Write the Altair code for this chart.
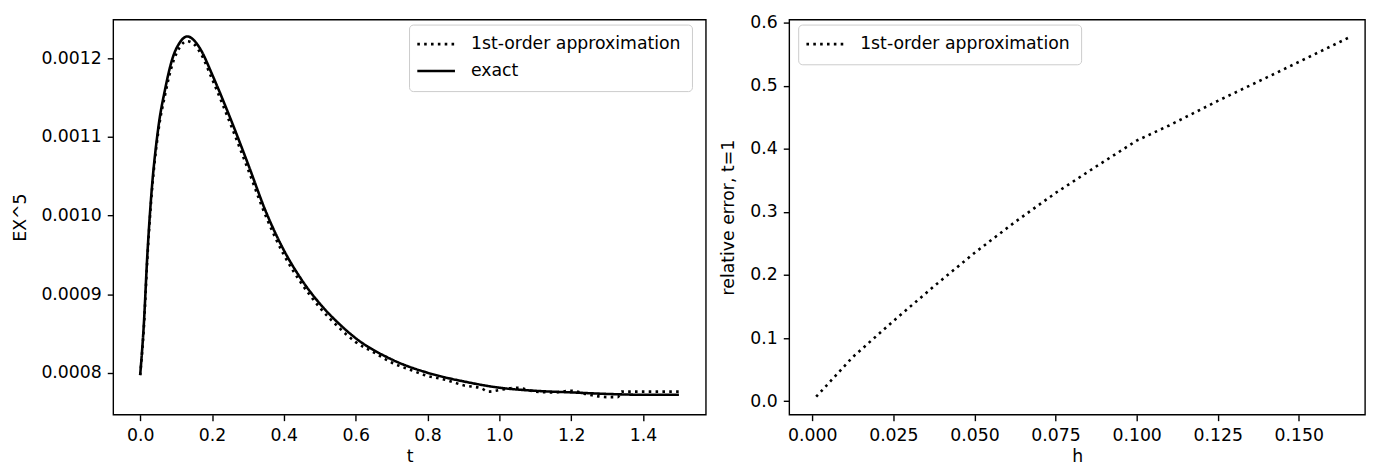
import altair as alt
import pandas as pd

# ---- left panel data ----
t_exact = [0.0, 0.01, 0.02, 0.03, 0.05, 0.07, 0.09, 0.11, 0.131, 0.15, 0.17, 0.2, 0.25, 0.3,
           0.35, 0.4, 0.45, 0.5, 0.55, 0.6, 0.7, 0.8, 0.9, 1.0, 1.1, 1.2, 1.3, 1.4, 1.5]
v_exact = [0.000797, 0.000860, 0.000950, 0.001020, 0.001110, 0.001162, 0.001200, 0.001220,
           0.001228, 0.001223, 0.001210, 0.001180, 0.001125, 0.001066, 0.001005, 0.000956,
           0.000918, 0.000888, 0.000864, 0.000844, 0.000817, 0.000800, 0.000789, 0.000781,
           0.000777, 0.000775, 0.000773, 0.000772, 0.000772]

t_approx = [0.0, 0.01, 0.02, 0.03, 0.05, 0.07, 0.09, 0.11, 0.13, 0.15, 0.17, 0.2, 0.25, 0.3,
            0.35, 0.4, 0.45, 0.5, 0.55, 0.6, 0.65, 0.7, 0.75, 0.8, 0.85, 0.9, 0.95, 0.97,
            1.0, 1.05, 1.1, 1.15, 1.2, 1.25, 1.3, 1.33, 1.34, 1.5]
v_approx = [0.000797, 0.000855, 0.000945, 0.001015, 0.001105, 0.001155, 0.001193, 0.001214,
            0.001222, 0.001218, 0.001205, 0.001174, 0.001118, 0.001059, 0.000999, 0.000950,
            0.000913, 0.000883, 0.000859, 0.000839, 0.000826, 0.000813, 0.000804, 0.000796,
            0.000791, 0.000784, 0.000780, 0.000776, 0.000778, 0.000781, 0.000776, 0.000775,
            0.000777, 0.000772, 0.000769, 0.000769, 0.000776, 0.000776]

# ---- right panel data ----
h_vals = [0.0012, 0.0125, 0.025, 0.0375, 0.05, 0.0625, 0.075, 0.0875, 0.1, 0.11, 0.125,
          0.1429, 0.1654]
err_vals = [0.007, 0.070, 0.127, 0.182, 0.235, 0.284, 0.330, 0.372, 0.413, 0.437, 0.476,
            0.520, 0.5764]

APPROX = "1st-order approximation"
EXACT = "exact"

left_df = pd.concat([
    pd.DataFrame({"t": t_approx, "v": v_approx, "series": APPROX, "o": range(len(t_approx))}),
    pd.DataFrame({"t": t_exact, "v": v_exact, "series": EXACT, "o": range(len(t_exact))}),
])
right_df = pd.DataFrame({"h": h_vals, "err": err_vals, "series": APPROX,
                         "o": range(len(h_vals))})

FS = 17.4
DOT = [2.6, 4.3]
SOLID = [1, 0]

legend_common = dict(
    title=None,
    orient="none",
    padding=11,
    strokeColor="#cccccc",
    fillColor="white",
    cornerRadius=4,
    labelFontSize=FS,
    labelColor="black",
    labelOffset=34,
    labelLimit=500,
    symbolType="M-1.8,0H4.2",
    symbolSize=160,
    symbolStrokeWidth=2.6,
    symbolStrokeColor="black",
    rowPadding=8,
)

left = alt.Chart(left_df).mark_line(color="black", strokeWidth=2.6, clip=True,
                                    interpolate="monotone").encode(
    x=alt.X("t:Q", title="t",
            scale=alt.Scale(domain=[-0.075, 1.575], nice=False, zero=False),
            axis=alt.Axis(values=[0, 0.2, 0.4, 0.6, 0.8, 1.0, 1.2, 1.4], format=".1f")),
    y=alt.Y("v:Q", title="EX^5",
            scale=alt.Scale(domain=[0.0007466, 0.0012494], nice=False, zero=False),
            axis=alt.Axis(values=[0.0008, 0.0009, 0.0010, 0.0011, 0.0012], format=".4f",
                          titlePadding=12)),
    strokeDash=alt.StrokeDash("series:N",
                              scale=alt.Scale(domain=[APPROX, EXACT], range=[DOT, SOLID]),
                              legend=alt.Legend(legendX=298, legendY=5, **legend_common)),
    order="o:Q",
).properties(width=597, height=398)

right = alt.Chart(right_df).mark_line(color="black", strokeWidth=2.6, clip=True).encode(
    x=alt.X("h:Q", title="h",
            scale=alt.Scale(domain=[-0.0071, 0.1704], nice=False, zero=False),
            axis=alt.Axis(values=[0, 0.025, 0.05, 0.075, 0.1, 0.125, 0.15], format=".3f")),
    y=alt.Y("err:Q", title="relative error, t=1",
            scale=alt.Scale(domain=[-0.0215, 0.6049], nice=False, zero=False),
            axis=alt.Axis(values=[0, 0.1, 0.2, 0.3, 0.4, 0.5, 0.6], format=".1f",
                          titlePadding=12)),
    strokeDash=alt.StrokeDash("series:N",
                              scale=alt.Scale(domain=[APPROX], range=[DOT]),
                              legend=alt.Legend(legendX=9, legendY=5, **legend_common)),
    order="o:Q",
).properties(width=580, height=398)

chart = alt.hconcat(left, right, spacing=12).resolve_scale(
    strokeDash="independent"
).resolve_legend(strokeDash="independent").properties(
    padding={"left": 2, "top": 3, "right": 0, "bottom": 0}
).configure(
    font="DejaVu Sans",
).configure_view(
    stroke="black", strokeWidth=1.4
).configure_axis(
    domain=False, grid=False,
    ticks=True, tickColor="black", tickSize=6, tickWidth=1.4,
    labelFontSize=FS, labelColor="black", labelPadding=6,
    titleFontSize=FS, titleFontWeight="normal", titleColor="black",
    labelFont="DejaVu Sans", titleFont="DejaVu Sans",
)

chart.save("out.html", embed_options={"renderer": "svg", "actions": False})
